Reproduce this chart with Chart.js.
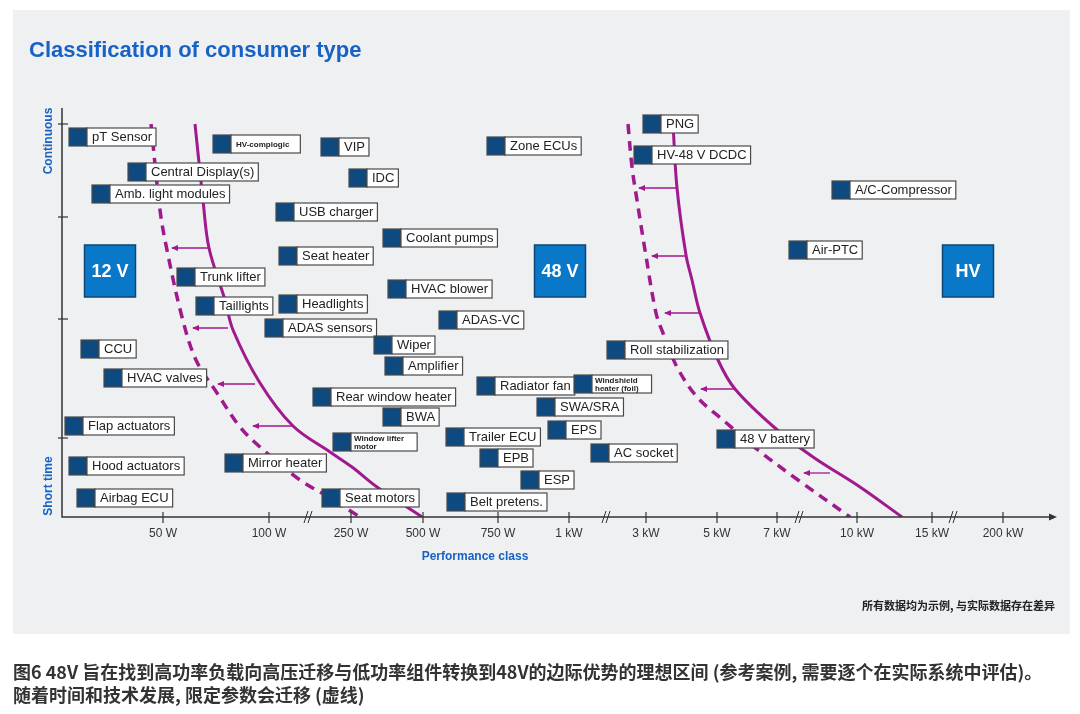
<!DOCTYPE html>
<html>
<head>
<meta charset="utf-8">
<script src="https://cdn.jsdelivr.net/npm/chart.js@4"></script>
<style>
html, body { margin: 0; padding: 0; background: #fff; }
#wrap { width: 1080px; height: 714px; }
</style>
</head>
<body>
<div id="wrap"><canvas id="chart" width="1080" height="714"></canvas></div>
<script>
const tickValues = [101, 207, 289, 361, 436, 507, 584, 655, 715, 795, 870, 941];
const tickLabels = ['50 W', '100 W', '250 W', '500 W', '750 W', '1 kW', '3 kW', '5 kW', '7 kW', '10 kW', '15 kW', '200 kW'];
const breakValues = [247, 545, 738, 892];
// duty axis: 0 = short time, top = continuous
const timeTicks = [393, 300, 198, 79];

const consumerNames = [
    'pT Sensor', 'HV-complogic', 'VIP', 'Zone ECUs', 'PNG', 'HV-48 V DCDC', 'Central Display(s)', 'IDC',
    'A/C-Compressor', 'Amb. light modules', 'USB charger', 'Coolant pumps', 'Air-PTC', 'Seat heater',
    'Trunk lifter', 'HVAC blower', 'Taillights', 'Headlights', 'ADAS-VC', 'ADAS sensors', 'Wiper', 'CCU',
    'Roll stabilization', 'Amplifier', 'HVAC valves', 'Radiator fan', 'Windshield\nheater (foil)',
    'Rear window heater', 'SWA/SRA', 'BWA', 'Flap actuators', 'EPS', 'Trailer ECU', '48 V battery',
    'Window lifter\nmotor', 'AC socket', 'EPB', 'Mirror heater', 'Hood actuators', 'ESP', 'Airbag ECU',
    'Seat motors', 'Belt pretens.'
];
const consumerX = [7, 151, 259, 425, 581, 572, 66, 287, 770, 30, 214, 321, 727, 217, 115, 326, 134, 217,
    377, 203, 312, 19, 545, 323, 42, 415, 512, 251, 475, 321, 3, 486, 384, 655, 271, 529, 418, 163, 7,
    459, 15, 260, 385];
const consumerY = [380, 373, 370, 371, 393, 362, 345, 339, 327, 323, 305, 279, 267, 261, 240, 228, 211,
    213, 197, 189, 172, 168, 167, 151, 139, 131, 133, 120, 110, 100, 91, 87, 80, 78, 75, 64, 59, 54, 51,
    37, 19, 19, 15];
const smallNames = ['HV-complogic', 'Windshield\nheater (foil)', 'Window lifter\nmotor'];

const voltageNames = ['12 V', '48 V', 'HV'];
const voltageX = [48, 498, 906];
const voltageY = [246, 246, 246];

// limit curves [x, y]
const limit12Solid = [[133, 393], [141, 317], [147, 269], [163, 217], [171, 187], [198, 134], [231, 91],
    [268, 65], [290, 50], [315, 30], [360, 0]];
const limit12Dashed = [[89, 393], [98, 307], [105, 267], [120, 200], [134, 157], [155, 124], [178, 90],
    [198, 70], [238, 37], [263, 22], [298, 0]];
const limitHvSolid = [[611, 393], [615, 329], [624, 262], [630, 237], [638, 204], [656, 157], [673, 128],
    [713, 89], [751, 60], [798, 30], [840, 0]];
const limitHvDashed = [[566, 393], [570, 350], [575, 317], [583, 267], [594, 204], [601, 184], [615, 150],
    [635, 120], [661, 97], [696, 67], [736, 37], [788, 0]];
// shift arrows [y, from, to]
const shiftArrows = [[269, 147, 110], [189, 166, 131], [133, 193, 156], [91, 231, 191],
    [329, 615, 577], [261, 624, 590], [204, 638, 603], [128, 673, 639], [44, 768, 742]];

const PURPLE = '#a1198f';
const DARKBLUE = '#0e4a80';
const TEXTBLUE = '#1762c4';
const LATIN = '"Liberation Sans", Arial, sans-serif';
const CJK = '"Noto Sans CJK SC", "Liberation Sans", sans-serif';

const toPts = arr => arr.map(p => ({ x: p[0], y: p[1] }));

const datasets = [
    { type: 'line', data: toPts(limit12Dashed), borderColor: PURPLE, borderWidth: 3.5, borderDash: [10, 7], pointRadius: 0, tension: 0.35, fill: false },
    { type: 'line', data: toPts(limit12Solid), borderColor: PURPLE, borderWidth: 3, pointRadius: 0, tension: 0.35, fill: false },
    { type: 'line', data: toPts(limitHvDashed), borderColor: PURPLE, borderWidth: 3.5, borderDash: [10, 7], pointRadius: 0, tension: 0.35, fill: false },
    { type: 'line', data: toPts(limitHvSolid), borderColor: PURPLE, borderWidth: 3, pointRadius: 0, tension: 0.35, fill: false }
];
shiftArrows.forEach(a => {
    datasets.push({ type: 'line', arrow: true, data: [{ x: a[1], y: a[0] }, { x: a[2], y: a[0] }], borderColor: PURPLE, borderWidth: 1.3, pointRadius: 0, fill: false });
});
datasets.push({ type: 'scatter', kind: 'voltage', data: voltageX.map((x, i) => ({ x: x, y: voltageY[i] })), pointRadius: 0 });
datasets.push({ type: 'scatter', kind: 'consumer', data: consumerX.map((x, i) => ({ x: x, y: consumerY[i] })), pointRadius: 0 });

function drawConsumer(ctx, name, px, py) {
    const small = smallNames.includes(name);
    const lines = name.split('\n');
    ctx.font = small ? 'bold 8px ' + LATIN : '13px ' + LATIN;
    const tw = Math.max(...lines.map(l => ctx.measureText(l).width));
    const w = tw + (small ? 16 : 9);
    ctx.fillStyle = DARKBLUE;
    ctx.fillRect(px, py - 9, 18, 18);
    ctx.strokeStyle = '#4a4a4a';
    ctx.lineWidth = 1.2;
    ctx.strokeRect(px, py - 9, 18, 18);
    ctx.fillStyle = '#fff';
    ctx.fillRect(px + 18, py - 9, w, 18);
    ctx.strokeRect(px + 18, py - 9, w, 18);
    ctx.fillStyle = '#222';
    ctx.textAlign = 'left';
    ctx.textBaseline = 'middle';
    if (lines.length === 1) {
        ctx.fillText(name, px + 23, py + 0.5);
    } else {
        ctx.fillText(lines[0], px + 21, py - 3.5);
        ctx.fillText(lines[1], px + 21, py + 4.5);
    }
}

const overlay = {
    id: 'overlay',
    beforeDraw(chart) {
        const ctx = chart.ctx;
        ctx.save();
        ctx.fillStyle = '#fff';
        ctx.fillRect(0, 0, chart.width, chart.height);
        ctx.fillStyle = '#eef0f2';
        ctx.fillRect(13, 10, 1057, 624);
        ctx.restore();
    },
    afterDatasetsDraw(chart) {
        const ctx = chart.ctx;
        const xs = chart.scales.x, ys = chart.scales.y, area = chart.chartArea;
        ctx.save();
        // axes
        ctx.strokeStyle = '#333';
        ctx.fillStyle = '#333';
        ctx.lineWidth = 1.5;
        ctx.beginPath();
        ctx.moveTo(area.left, area.top);
        ctx.lineTo(area.left, area.bottom);
        ctx.lineTo(area.right - 2, area.bottom);
        ctx.stroke();
        ctx.beginPath();
        ctx.moveTo(area.right + 2, area.bottom);
        ctx.lineTo(area.right - 6, area.bottom - 3.5);
        ctx.lineTo(area.right - 6, area.bottom + 3.5);
        ctx.closePath();
        ctx.fill();
        ctx.lineWidth = 1.2;
        xs.ticks.forEach(t => {
            const p = xs.getPixelForValue(t.value);
            ctx.beginPath();
            ctx.moveTo(p, area.bottom - 5);
            ctx.lineTo(p, area.bottom + 6);
            ctx.stroke();
        });
        ys.ticks.forEach(t => {
            const p = ys.getPixelForValue(t.value);
            ctx.beginPath();
            ctx.moveTo(area.left - 4, p);
            ctx.lineTo(area.left + 6, p);
            ctx.stroke();
        });
        ctx.lineWidth = 1;
        breakValues.forEach(v => {
            const p = xs.getPixelForValue(v);
            for (let i = 0; i < 2; i++) {
                ctx.beginPath();
                ctx.moveTo(p - 5 + i * 4, area.bottom + 6);
                ctx.lineTo(p - 1 + i * 4, area.bottom - 6);
                ctx.stroke();
            }
        });
        // arrow heads
        ctx.fillStyle = PURPLE;
        chart.data.datasets.forEach((ds, i) => {
            if (!ds.arrow) return;
            const tip = chart.getDatasetMeta(i).data[1];
            ctx.beginPath();
            ctx.moveTo(tip.x - 1, tip.y);
            ctx.lineTo(tip.x + 6, tip.y - 3);
            ctx.lineTo(tip.x + 6, tip.y + 3);
            ctx.closePath();
            ctx.fill();
        });
        // voltage class boxes
        chart.data.datasets.forEach((ds, i) => {
            if (ds.kind !== 'voltage') return;
            chart.getDatasetMeta(i).data.forEach((el, j) => {
                ctx.fillStyle = '#0a78c8';
                ctx.fillRect(el.x - 25.5, el.y - 26, 51, 52);
                ctx.strokeStyle = '#0c4677';
                ctx.lineWidth = 1.5;
                ctx.strokeRect(el.x - 25.5, el.y - 26, 51, 52);
                ctx.fillStyle = '#fff';
                ctx.font = 'bold 18px ' + LATIN;
                ctx.textAlign = 'center';
                ctx.textBaseline = 'middle';
                ctx.fillText(voltageNames[j], el.x, el.y + 1);
            });
        });
        // consumer labels
        chart.data.datasets.forEach((ds, i) => {
            if (ds.kind !== 'consumer') return;
            chart.getDatasetMeta(i).data.forEach((el, j) => drawConsumer(ctx, consumerNames[j], el.x, el.y));
        });
        ctx.restore();
    },
    afterDraw(chart) {
        const ctx = chart.ctx;
        ctx.save();
        ctx.fillStyle = TEXTBLUE;
        ctx.font = 'bold 22px ' + LATIN;
        ctx.textAlign = 'left';
        ctx.textBaseline = 'alphabetic';
        ctx.fillText('Classification of consumer type', 29, 57);

        ctx.font = 'bold 12px ' + LATIN;
        ctx.textAlign = 'center';
        ctx.textBaseline = 'middle';
        ctx.fillText('Performance class', 475, 557);
        ctx.save();
        ctx.translate(49, 141);
        ctx.rotate(-Math.PI / 2);
        ctx.fillText('Continuous', 0, 0);
        ctx.restore();
        ctx.save();
        ctx.translate(49, 486);
        ctx.rotate(-Math.PI / 2);
        ctx.fillText('Short time', 0, 0);
        ctx.restore();

        ctx.fillStyle = '#222';
        ctx.font = 'bold 11px ' + CJK;
        ctx.textAlign = 'right';
        ctx.fillText('所有数据均为示例, 与实际数据存在差异', 1055, 606);

        ctx.fillStyle = '#333';
        ctx.font = 'bold 18px ' + CJK;
        ctx.textAlign = 'left';
        ctx.fillText('图6 48V 旨在找到高功率负载向高压迁移与低功率组件转换到48V的边际优势的理想区间 (参考案例, 需要逐个在实际系统中评估)。', 13, 672);
        ctx.fillText('随着时间和技术发展, 限定参数会迁移 (虚线)', 13, 695);
        ctx.restore();
    }
};

const chart = new Chart(document.getElementById('chart').getContext('2d'), {
    type: 'scatter',
    data: { datasets: datasets },
    options: {
        responsive: false,
        animation: false,
        devicePixelRatio: 1,
        layout: { padding: { top: 108, right: 25, bottom: 0, left: 0 } },
        plugins: { legend: { display: false }, tooltip: { enabled: false } },
        scales: {
            x: {
                type: 'linear',
                min: 0,
                max: 993,
                afterFit(scale) { scale.height = 197; },
                afterBuildTicks(scale) { scale.ticks = tickValues.map(v => ({ value: v })); },
                grid: { display: false, drawTicks: false },
                border: { display: false },
                ticks: {
                    autoSkip: false,
                    maxRotation: 0,
                    padding: 9,
                    color: '#333',
                    font: { family: 'Liberation Sans', size: 12 },
                    callback: (v, i) => tickLabels[i]
                }
            },
            y: {
                type: 'linear',
                min: 0,
                max: 409,
                afterFit(scale) { scale.width = 62; },
                afterBuildTicks(scale) { scale.ticks = timeTicks.map(v => ({ value: v })); },
                ticks: { display: false },
                grid: { display: false, drawTicks: false },
                border: { display: false }
            }
        }
    },
    plugins: [overlay]
});
</script>
</body>
</html>
